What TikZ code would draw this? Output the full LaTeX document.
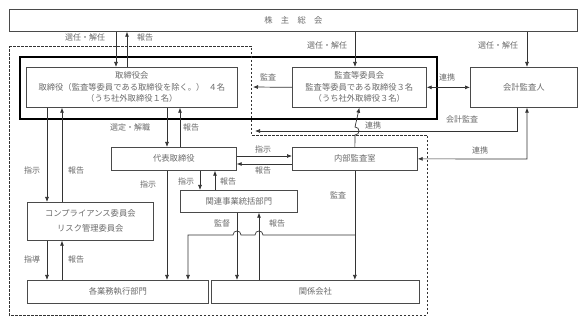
\documentclass[tikz,border=0pt]{standalone}
\usepackage{fontspec}
\newfontfamily\jp{Noto Sans CJK JP}
\usetikzlibrary{arrows.meta}
\definecolor{txtc}{HTML}{6A6A6A}
\definecolor{linec}{HTML}{333333}
\definecolor{boxc}{HTML}{4A4A4A}
\begin{document}
\begin{tikzpicture}[x=1pt,y=-1pt,
  box/.style={draw=boxc, line width=0.7pt, inner sep=0pt, anchor=north west, text=txtc,
    font=\jp\fontsize{8.3}{11.5}\selectfont, align=center},
  lbl/.style={text=txtc, font=\jp\fontsize{8}{10}\selectfont, inner sep=0pt},
  con/.style={draw=linec, line width=0.7pt},
  arr/.style={con, -{Latex[length=5pt,width=4pt]}},
  darr/.style={con, {Latex[length=5pt,width=4pt]}-{Latex[length=5pt,width=4pt]}},
  grp/.style={draw=linec, line width=0.8pt, dash pattern=on 2.5pt off 1.5pt}
]
\useasboundingbox (0,0) rectangle (587,323);
\fill[white] (0,0) rectangle (587,323);

% boxes
\node[box, minimum width=568pt, minimum height=22pt] (sh) at (9,9) {株　主　総　会};
\node[box, minimum width=211pt, minimum height=40pt] (board) at (26,67)
  {取締役会\\取締役（監査等委員である取締役を除く。）\hspace{4pt}４名\\（うち社外取締役１名）};
\node[box, minimum width=134pt, minimum height=40pt] (acom) at (292,67)
  {監査等委員会\\監査等委員である取締役３名\\（うち社外取締役３名）};
\node[box, minimum width=107pt, minimum height=40pt] (aud) at (470,67) {会計監査人};
\node[box, minimum width=125pt, minimum height=23pt] (rep) at (111,147) {代表取締役};
\node[box, minimum width=125pt, minimum height=23pt] (ia) at (292,147) {内部監査室};
\node[box, minimum width=126pt, minimum height=38pt, font=\jp\fontsize{8.3}{15}\selectfont] (comp) at (27,202)
  {コンプライアンス委員会\\リスク管理委員会};
\node[box, minimum width=117pt, minimum height=22pt] (rel) at (180,190) {関連事業統括部門};
\node[box, minimum width=181pt, minimum height=23pt] (ops) at (27,280) {各業務執行部門};
\node[box, minimum width=208pt, minimum height=23pt] (aff) at (211,280) {関係会社};

% frames
\draw[line width=2.6pt, black] (20,57) rectangle (437,119);
\draw[grp] (9,46) -- (251,46) -- (251,135) -- (427,135) -- (427,315) -- (9,315) -- cycle;

% shareholders meeting
\draw[arr] (sh.south -| 116,0) -- (board.north -| 116,0);
\draw[arr] (board.north -| 127,0) -- (sh.south -| 127,0);
\draw[arr] (sh.south -| 355,0) -- (acom.north -| 355,0);
\draw[arr] (sh.south -| 527,0) -- (aud.north -| 527,0);
\node[lbl] (l1) at (85,37) {選任・解任};
\node[lbl] (l2) at (145,37) {報告};
\node[lbl] (l3) at (327,45) {選任・解任};
\node[lbl] (l4) at (498,45) {選任・解任};

% audit committee
\coordinate (audtip) at (253,87);
\draw[arr] (acom.west) -- (audtip);
\node[lbl] (l5) at (268,77) {監査};
\draw[darr] (acom.east) -- (aud.west);
\node[lbl] (l6) at (447,77) {連携};

% accounting audit line
\coordinate (catip) at (255,131);
\draw[arr] (aud.south -| 517,0) -- (517,131) -- (catip);
\node[lbl] (l7) at (462,119) {会計監査};

% internal audit -> audit committee with hop
\draw[arr] (ia.north) -- (355,135) .. controls (360.3,135) and (360.3,127) .. (355,127) -- (acom.south);
\node[lbl] (l8) at (373,125) {連携};

% internal audit <-> auditor
\draw[darr] (ia.east) -- (527,159) -- (aud.south -| 527,0);
\node[lbl] (l9) at (480,150) {連携};

% board <-> rep
\draw[arr] (board.south -| 167,0) -- (rep.north -| 167,0);
\draw[arr] (rep.north -| 180,0) -- (board.south -| 180,0);
\node[lbl] (l10) at (130,127) {選定・解職};
\node[lbl] (l11) at (191,127) {報告};

% board <-> compliance
\draw[arr] (board.south -| 47,0) -- (comp.north -| 47,0);
\draw[arr] (comp.north -| 62,0) -- (board.south -| 62,0);
\node[lbl] (l12) at (32,170) {指示};
\node[lbl] (l13) at (76,170) {報告};

% rep <-> internal audit
\draw[arr] (rep.east |- 0,156) -- (ia.west |- 0,156);
\draw[arr] (ia.west |- 0,164) -- (rep.east |- 0,164);
\node[lbl] (l14) at (263,149) {指示};
\node[lbl] (l15) at (263,170) {報告};

% rep -> ops, rep <-> rel
\draw[arr] (rep.south -| 167,0) -- (ops.north -| 167,0);
\node[lbl] (l16) at (148,184) {指示};
\draw[arr] (rep.south -| 200,0) -- (rel.north -| 200,0);
\draw[arr] (rel.north -| 215,0) -- (rep.south -| 215,0);
\node[lbl] (l17) at (186,181) {指示};
\node[lbl] (l18) at (228,181) {報告};

% compliance <-> ops
\draw[arr] (comp.south -| 47,0) -- (ops.north -| 47,0);
\draw[arr] (ops.north -| 62,0) -- (comp.south -| 62,0);
\node[lbl] (l19) at (32,259) {指導};
\node[lbl] (l20) at (76,259) {報告};

% rel <-> affiliates
\draw[arr] (rel.south -| 237,0) -- (aff.north -| 237,0);
\draw[arr] (aff.north -| 259,0) -- (rel.south -| 259,0);
\node[lbl] (l21) at (222,223) {監督};
\node[lbl] (l22) at (277,223) {報告};

% internal audit -> affiliates and ops
\draw[arr] (ia.south) -- (aff.north -| ia.south);
\draw[arr] (355,235) -- (263,235) .. controls (263,229.7) and (255,229.7) .. (255,235)
  -- (241,235) .. controls (241,229.7) and (233,229.7) .. (233,235)
  -- (188,235) -- (ops.north -| 188,0);
\node[lbl] (l23) at (338,195) {監査};
\end{tikzpicture}
\end{document}
